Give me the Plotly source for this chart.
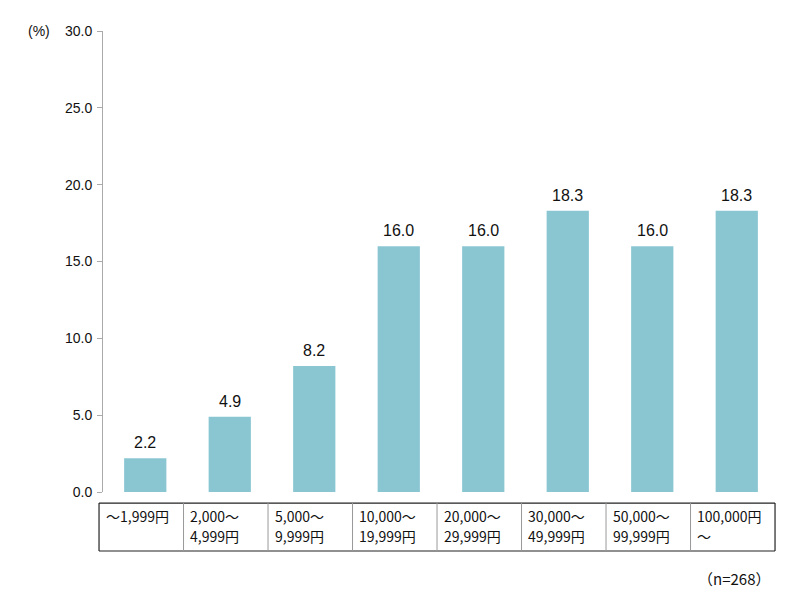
import plotly.graph_objects as go

categories = ["~1,999円", "2,000~4,999円", "5,000~9,999円", "10,000~19,999円",
              "20,000~29,999円", "30,000~49,999円", "50,000~99,999円", "100,000円~"]
label_line1 = ["～1,999円", "2,000～", "5,000～", "10,000～", "20,000～", "30,000～", "50,000～", "100,000円"]
label_line2 = ["", "4,999円", "9,999円", "19,999円", "29,999円", "49,999円", "99,999円", "～"]
values = [2.2, 4.9, 8.2, 16.0, 16.0, 18.3, 16.0, 18.3]
y_ticks = [0, 5, 10, 15, 20, 25, 30]
y_tick_labels = ["0.0", "5.0", "10.0", "15.0", "20.0", "25.0", "30.0"]

BAR = "#8AC6D2"
N = len(categories)
x_idx = list(range(N))

fig = go.Figure()
fig.add_trace(go.Bar(x=x_idx, y=values, width=0.5, marker=dict(color=BAR, line=dict(width=0)),
                     hoverinfo="skip", cliponaxis=False))

annotations = []
for i, v in zip(x_idx, values):
    annotations.append(dict(x=i, y=v, xref="x", yref="y", text=f"{v:.1f}", showarrow=False,
                            yanchor="bottom", yshift=5,
                            font=dict(family="Liberation Sans, Arial", size=16, color="#111")))


def cat_edge_paper(k):
    # left edge of table column k in paper coords (table sits ~4px left of bar slots)
    return (k - 0.047) / N


y_top = -0.024
y_bot = -0.128
shapes = []
x_left, x_right = cat_edge_paper(0), cat_edge_paper(N)
for yy in (y_top, y_bot):
    shapes.append(dict(type="line", xref="paper", yref="paper", x0=x_left, x1=x_right,
                       y0=yy, y1=yy, line=dict(color="#222", width=1.2), layer="above"))
for k in (0, N):
    shapes.append(dict(type="line", xref="paper", yref="paper", x0=cat_edge_paper(k), x1=cat_edge_paper(k),
                       y0=y_bot, y1=y_top, line=dict(color="#222", width=1.2), layer="above"))
for k in range(1, N):
    shapes.append(dict(type="line", xref="paper", yref="paper", x0=cat_edge_paper(k), x1=cat_edge_paper(k),
                       y0=y_bot, y1=y_top, line=dict(color="#999", width=1), layer="above"))

for i in x_idx:
    annotations.append(dict(x=cat_edge_paper(i) + 0.007, y=-0.052, xref="paper", yref="paper",
                            text=label_line1[i], showarrow=False, xanchor="left", yanchor="middle",
                            font=dict(family="Noto Sans CJK JP", size=14, color="#111")))
    if label_line2[i]:
        annotations.append(dict(x=cat_edge_paper(i) + 0.007, y=-0.095, xref="paper", yref="paper",
                                text=label_line2[i], showarrow=False, xanchor="left", yanchor="middle",
                                font=dict(family="Noto Sans CJK JP", size=14, color="#111")))

PLOT_L, PLOT_W, PLOT_B, PLOT_H = 103, 676, 492, 461
annotations.append(dict(x=(39 - PLOT_L) / PLOT_W, y=1.0, xref="paper", yref="paper", text="(%)",
                        showarrow=False, xanchor="center", yanchor="middle",
                        font=dict(family="Liberation Sans, Arial", size=14, color="#111")))
annotations.append(dict(x=(734 - PLOT_L) / PLOT_W, y=(PLOT_B - 578) / PLOT_H, xref="paper", yref="paper",
                        text="（n=268）", showarrow=False, xanchor="center", yanchor="middle",
                        font=dict(family="Noto Sans CJK JP", size=15, color="#111")))

fig.update_layout(
    width=800, height=606,
    margin=dict(l=PLOT_L, r=800 - PLOT_L - PLOT_W, t=31, b=606 - PLOT_B, autoexpand=False),
    paper_bgcolor="white", plot_bgcolor="white",
    showlegend=False,
    xaxis=dict(range=[-0.5, N - 0.5], showticklabels=False, showgrid=False,
               zeroline=False, showline=False, ticks=""),
    yaxis=dict(range=[0, 30], tickvals=y_ticks, ticktext=y_tick_labels, showgrid=False, zeroline=False,
               showline=True, linecolor="#aaa", linewidth=1, ticks="outside", ticklen=5, tickcolor="#aaa",
               tickfont=dict(family="Liberation Sans, Arial", size=14, color="#111"), ticklabelstandoff=2,
               automargin=False),
    annotations=annotations,
    shapes=shapes,
)

fig.write_html("out.html", config={"displayModeBar": False},
               post_script="document.body.style.margin='0';document.body.style.padding='0';")
